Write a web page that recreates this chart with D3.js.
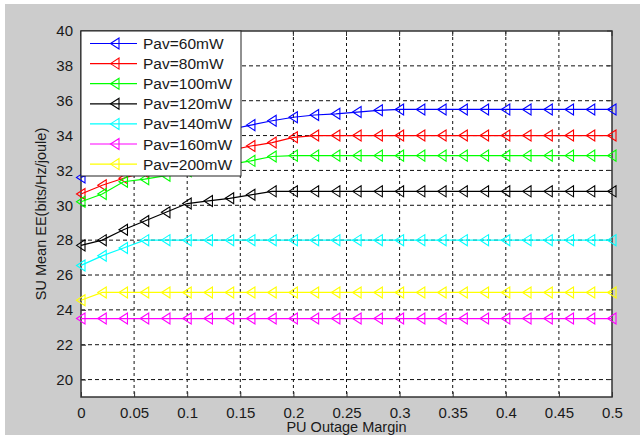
<!DOCTYPE html>
<html>
<head>
<meta charset="utf-8">
<title>SU Mean EE</title>
<script src="https://cdn.jsdelivr.net/npm/d3@7"></script>
<style>
  body { margin: 0; background: #fff; }
  text { font-family: "Liberation Sans", Arial, sans-serif; fill: #1a1a1a; }
</style>
</head>
<body>
<svg width="640" height="437"></svg>
<script>
// data
var xs = [0, 0.02, 0.04, 0.06, 0.08, 0.1, 0.12, 0.14, 0.16, 0.18, 0.2, 0.22, 0.24,
          0.26, 0.28, 0.3, 0.32, 0.34, 0.36, 0.38, 0.4, 0.42, 0.44, 0.46, 0.48, 0.5];
var pav60  = [31.6, 32.1, 32.6, 33.0, 33.4, 33.75, 34.05, 34.35, 34.6, 34.85, 35.05, 35.18, 35.25,
              35.35, 35.45, 35.5, 35.5, 35.5, 35.5, 35.5, 35.5, 35.5, 35.5, 35.5, 35.5, 35.5];
var pav80  = [30.65, 31.15, 31.55, 31.9, 32.3, 32.6, 32.9, 33.15, 33.4, 33.6, 33.9, 34.0, 34.0,
              34.0, 34.0, 34.0, 34.0, 34.0, 34.0, 34.0, 34.0, 34.0, 34.0, 34.0, 34.0, 34.0];
var pav100 = [30.2, 30.65, 31.35, 31.5, 31.7, 31.95, 32.15, 32.35, 32.55, 32.8, 32.85, 32.85, 32.85,
              32.85, 32.85, 32.85, 32.85, 32.85, 32.85, 32.85, 32.85, 32.85, 32.85, 32.85, 32.85, 32.85];
var pav120 = [27.7, 28.0, 28.6, 29.1, 29.6, 30.1, 30.25, 30.4, 30.6, 30.8, 30.8, 30.8, 30.8,
              30.8, 30.8, 30.8, 30.8, 30.8, 30.8, 30.8, 30.8, 30.8, 30.8, 30.8, 30.8, 30.8];
var pav140 = [26.55, 27.1, 27.55, 28.0, 28.0, 28.0, 28.0, 28.0, 28.0, 28.0, 28.0, 28.0, 28.0,
              28.0, 28.0, 28.0, 28.0, 28.0, 28.0, 28.0, 28.0, 28.0, 28.0, 28.0, 28.0, 28.0];
var pav160 = [23.5, 23.5, 23.5, 23.5, 23.5, 23.5, 23.5, 23.5, 23.5, 23.5, 23.5, 23.5, 23.5,
              23.5, 23.5, 23.5, 23.5, 23.5, 23.5, 23.5, 23.5, 23.5, 23.5, 23.5, 23.5, 23.5];
var pav200 = [24.55, 25.0, 25.0, 25.0, 25.0, 25.0, 25.0, 25.0, 25.0, 25.0, 25.0, 25.0, 25.0,
              25.0, 25.0, 25.0, 25.0, 25.0, 25.0, 25.0, 25.0, 25.0, 25.0, 25.0, 25.0, 25.0];
var names  = ["Pav=60mW", "Pav=80mW", "Pav=100mW", "Pav=120mW", "Pav=140mW", "Pav=160mW", "Pav=200mW"];
var colors = ["#0000ff", "#ff0000", "#00ff00", "#000000", "#00ffff", "#ff00ff", "#ffff00"];
var xTicks = [0, 0.05, 0.1, 0.15, 0.2, 0.25, 0.3, 0.35, 0.4, 0.45, 0.5];
var yTicks = [20, 22, 24, 26, 28, 30, 32, 34, 36, 38, 40];

var allSeries = [pav60, pav80, pav100, pav120, pav140, pav160, pav200];

var svg = d3.select("svg");
var marge = {left: 81, top: 31, right: 612, bottom: 397};

// figure background
svg.append("rect").attr("x", 5).attr("y", 4).attr("width", 635).attr("height", 431).attr("fill", "#cccccc");
svg.append("rect").attr("x", marge.left).attr("y", marge.top)
  .attr("width", marge.right - marge.left).attr("height", marge.bottom - marge.top).attr("fill", "#fff");

var x = d3.scaleLinear().domain([0, 0.5]).range([marge.left, marge.right]);
var y = d3.scaleLinear().domain([19, 40]).range([marge.bottom, marge.top]);

// grid
var grid = svg.append("g");
grid.selectAll(".gx").data(xTicks.slice(1, -1)).enter().append("line")
  .attr("x1", function(d){ return x(d); }).attr("x2", function(d){ return x(d); })
  .attr("y1", marge.top).attr("y2", marge.bottom)
  .attr("stroke", "#111").attr("stroke-width", 1).attr("stroke-dasharray", "3,3");
grid.selectAll(".gy").data(yTicks.slice(0, -1)).enter().append("line")
  .attr("y1", function(d){ return y(d); }).attr("y2", function(d){ return y(d); })
  .attr("x1", marge.left).attr("x2", marge.right)
  .attr("stroke", "#111").attr("stroke-width", 1).attr("stroke-dasharray", "4,3");

// axes
var xAxis = d3.axisBottom(x).tickValues(xTicks).tickSize(-5).tickPadding(10).tickFormat(d3.format("~g"));
var yAxis = d3.axisLeft(y).tickValues(yTicks).tickSize(-5).tickPadding(8).tickFormat(d3.format("d"));
var xg = svg.append("g").attr("transform", "translate(0," + marge.bottom + ")").call(xAxis);
var yg = svg.append("g").attr("transform", "translate(" + marge.left + ",0)").call(yAxis);
[xg, yg].forEach(function(g){
  g.select(".domain").remove();
  g.selectAll(".tick line").attr("stroke", "#333");
  g.selectAll(".tick text").attr("font-size", 15).attr("fill", "#1a1a1a")
    .style("font-family", "'Liberation Sans', Arial, sans-serif");
});
// top and right ticks
svg.append("g").selectAll("line").data(xTicks).enter().append("line")
  .attr("x1", function(d){ return x(d); }).attr("x2", function(d){ return x(d); })
  .attr("y1", marge.top).attr("y2", marge.top + 5).attr("stroke", "#333");
svg.append("g").selectAll("line").data(yTicks).enter().append("line")
  .attr("y1", function(d){ return y(d); }).attr("y2", function(d){ return y(d); })
  .attr("x1", marge.right).attr("x2", marge.right - 5).attr("stroke", "#333");

svg.append("rect").attr("x", marge.left).attr("y", marge.top)
  .attr("width", marge.right - marge.left).attr("height", marge.bottom - marge.top)
  .attr("fill", "none").attr("stroke", "#333").attr("stroke-width", 1.5);

// series
var tri = "M-4.5,0L4,-5.5L4,5.5Z";
var line = d3.line().x(function(d){ return x(d[0]); }).y(function(d){ return y(d[1]); });
allSeries.forEach(function(vals, i){
  var pts = xs.map(function(v, j){ return [v, vals[j]]; });
  var g = svg.append("g");
  g.append("path").datum(pts).attr("d", line)
    .attr("fill", "none").attr("stroke", colors[i]).attr("stroke-width", 1.2);
  g.selectAll("path.m").data(pts).enter().append("path").attr("class", "m")
    .attr("d", tri)
    .attr("transform", function(d){ return "translate(" + x(d[0]) + "," + y(d[1]) + ")"; })
    .attr("fill", "none").attr("stroke", colors[i]).attr("stroke-width", 1.1);
});

// legend
var leg = svg.append("g").attr("transform", "translate(" + marge.left + "," + marge.top + ")");
leg.append("rect").attr("x", 0).attr("y", 0).attr("width", 160).attr("height", 145)
  .attr("fill", "#fff").attr("stroke", "#222").attr("stroke-width", 1);
names.forEach(function(n, i){
  var ry = 12.5 + i * 20.1;
  leg.append("line").attr("x1", 9).attr("x2", 56).attr("y1", ry).attr("y2", ry)
    .attr("stroke", colors[i]).attr("stroke-width", 1.2);
  leg.append("path").attr("d", tri).attr("transform", "translate(34," + ry + ")")
    .attr("fill", "none").attr("stroke", colors[i]).attr("stroke-width", 1.1);
  leg.append("text").attr("x", 62).attr("y", ry + 5.5).attr("font-size", 15.5).text(n);
});

// axis labels
svg.append("text").attr("x", (marge.left + marge.right) / 2).attr("y", 432)
  .attr("text-anchor", "middle").attr("font-size", 14.5).text("PU Outage Margin");
svg.append("text").attr("transform", "translate(46," + ((marge.top + marge.bottom) / 2) + ") rotate(-90)")
  .attr("text-anchor", "middle").attr("font-size", 14.5).text("SU Mean EE(bits/Hz/joule)");
</script>
</body>
</html>
